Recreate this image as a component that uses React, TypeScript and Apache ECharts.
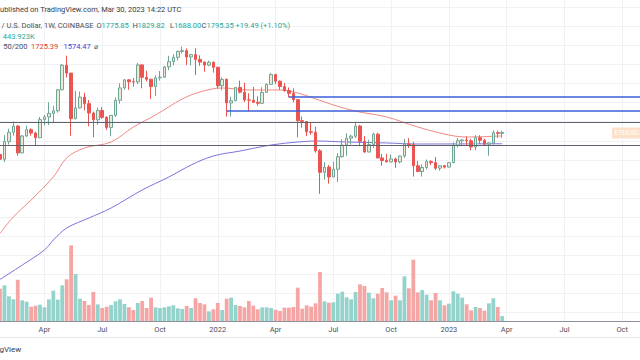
import React, { useEffect, useRef } from "react";
import * as echarts from "echarts";

// ---------- data ----------
const WEEK_START = "2021-01-25";
const WEEK_COUNT = 145; // weekly slots shown on the time axis (incl. empty future)

const TICKS: [string, string][] = [
  ["2021-04-05", "Apr"], ["2021-07-05", "Jul"], ["2021-10-04", "Oct"], ["2022-01-03", "2022"],
  ["2022-04-04", "Apr"], ["2022-07-04", "Jul"], ["2022-10-03", "Oct"], ["2023-01-02", "2023"],
  ["2023-04-03", "Apr"], ["2023-07-03", "Jul"], ["2023-10-02", "Oct"],
];

const OPEN = [
  1390, 1314, 1614, 1800, 1935, 1416, 1724, 1854, 1784, 1690, 2085, 2150, 2240, 2310, 2950, 3925, 3580, 2110, 2390, 2710,
  2510, 2250, 2080, 2320, 2140, 1900, 2190, 2610, 3015, 3310, 3240, 3230, 3940, 3410, 3330, 3060, 3390, 3414, 3850, 4090,
  4300, 4610, 4650, 4320, 4440, 4200, 4070, 3930, 4060, 3830, 3090, 3330, 2530, 2600, 3030, 2870, 2620, 2615, 2550, 2520,
  2860, 3140, 3520, 3260, 3060, 2920, 2830, 2630, 2060, 2040, 1810, 1800, 1450, 1130, 1200, 1070, 1170, 1355, 1550, 1680,
  1720, 1935, 1620, 1430, 1560, 1760, 1335, 1295, 1275, 1320, 1275, 1365, 1570, 1560, 1220, 1140, 1195, 1280, 1265, 1185,
  1220, 1200, 1265, 1550, 1630, 1645, 1630, 1515, 1690, 1640, 1565, 1590, 1790, 1775.85,
];
const HIGH = [
  1475, 1740, 1875, 2040, 1960, 1740, 1945, 1885, 1810, 2150, 2200, 2550, 2450, 2980, 3980, 4380, 3590, 2910, 2890, 2850,
  2620, 2290, 2400, 2410, 2170, 2200, 2700, 3180, 3340, 3330, 3380, 4030, 3960, 3680, 3360, 3490, 3670, 3890, 4380, 4460,
  4660, 4870, 4770, 4480, 4780, 4400, 4100, 4140, 4100, 3860, 3410, 3360, 2720, 3040, 3280, 3200, 2830, 3050, 2730, 3040,
  3180, 3580, 3555, 3290, 3190, 3030, 3000, 2650, 2160, 2050, 2020, 1920, 1480, 1270, 1230, 1280, 1410, 1660, 1780, 1750,
  2010, 1960, 1720, 1650, 1790, 1790, 1400, 1400, 1390, 1340, 1370, 1665, 1680, 1610, 1290, 1240, 1310, 1300, 1350, 1230,
  1230, 1270, 1600, 1680, 1660, 1715, 1670, 1740, 1740, 1670, 1580, 1840, 1830, 1829.82,
];
const LOW = [
  1230, 1270, 1560, 1730, 1370, 1410, 1700, 1730, 1545, 1680, 1950, 1955, 2000, 2260, 2930, 3400, 1730, 2090, 2370, 2320,
  1930, 1700, 1960, 2100, 1850, 1720, 2150, 2510, 2950, 2950, 3060, 3150, 3000, 3250, 2650, 2740, 3280, 3390, 3700, 3920,
  4150, 4500, 3930, 3910, 3500, 3900, 3640, 3880, 3600, 2990, 2930, 2160, 2160, 2580, 2830, 2560, 2300, 2580, 2450, 2500,
  2850, 3140, 3150, 2950, 2880, 2700, 2550, 1700, 1900, 1720, 1750, 1420, 880, 1040, 990, 1070, 1010, 1340, 1370, 1560,
  1680, 1530, 1420, 1430, 1500, 1330, 1220, 1270, 1265, 1190, 1255, 1335, 1500, 1075, 1135, 1075, 1170, 1230, 1160, 1150,
  1180, 1195, 1255, 1510, 1530, 1545, 1460, 1460, 1575, 1540, 1370, 1560, 1685, 1688.0,
];
const CLOSE = [
  1314, 1614, 1800, 1935, 1416, 1724, 1854, 1784, 1690, 2085, 2150, 2240, 2310, 2950, 3925, 3580, 2110, 2390, 2710, 2510,
  2250, 2080, 2320, 2140, 1900, 2190, 2610, 3015, 3310, 3240, 3230, 3940, 3410, 3330, 3060, 3390, 3414, 3850, 4090, 4300,
  4610, 4650, 4320, 4440, 4200, 4070, 3930, 4060, 3830, 3090, 3330, 2530, 2600, 3030, 2870, 2620, 2615, 2550, 2520, 2860,
  3140, 3520, 3260, 3060, 2920, 2830, 2630, 2060, 2040, 1810, 1800, 1450, 1130, 1200, 1070, 1170, 1355, 1550, 1680, 1720,
  1935, 1620, 1430, 1560, 1760, 1335, 1295, 1275, 1320, 1275, 1365, 1570, 1560, 1220, 1140, 1195, 1280, 1265, 1185, 1220,
  1200, 1265, 1550, 1630, 1645, 1630, 1515, 1690, 1640, 1565, 1590, 1790, 1775.85, 1795.35,
];
// weekly volume, thousands of ETH
const VOLUME_K = [
  2900, 3210, 2220, 1950, 3720, 1860, 1740, 1290, 1380, 1470, 1230, 1950, 2730, 1920, 3210, 3750, 6810, 4230, 2010, 1800,
  1440, 2610, 1500, 1170, 1290, 1440, 1770, 1950, 1530, 1230, 990, 1620, 1800, 1170, 2100, 1230, 1170, 1230, 1320, 1410,
  1140, 1080, 1350, 1170, 2040, 1620, 1500, 870, 1050, 1620, 990, 2010, 2100, 1440, 1350, 1230, 1800, 1380, 1050, 1230,
  1230, 1170, 1020, 900, 1200, 1200, 1260, 3000, 1110, 1410, 1290, 1590, 4410, 1770, 1650, 1680, 2460, 2640, 2130, 1950,
  2610, 3300, 3150, 2550, 2040, 2460, 2970, 2580, 1860, 2280, 1860, 4020, 2940, 5520, 2580, 2790, 2370, 1860, 2520, 1860,
  1410, 1560, 2670, 2460, 2100, 1500, 960, 1260, 1170, 930, 1590, 2040, 1260, 443.923,
];

const MA50_POINTS: [string, number][] = [
  ["2021-01-25", 555], ["2021-02-15", 672], ["2021-03-15", 819], ["2021-04-19", 1070], ["2021-05-10", 1335],
  ["2021-06-07", 1499], ["2021-07-19", 1607], ["2021-08-23", 1913], ["2021-09-27", 2200], ["2021-11-08", 2650],
  ["2021-12-06", 2875], ["2022-01-10", 3012], ["2022-02-21", 2943], ["2022-04-11", 2943], ["2022-05-09", 2842],
  ["2022-07-04", 2472], ["2022-08-08", 2300], ["2022-09-26", 2150], ["2022-11-14", 1913], ["2023-01-02", 1743],
  ["2023-01-30", 1703], ["2023-03-27", 1725.39],
];
const MA200_POINTS: [string, number][] = [
  ["2021-01-25", 325], ["2021-03-01", 384], ["2021-04-05", 458], ["2021-04-19", 514], ["2021-05-10", 591],
  ["2021-06-14", 664], ["2021-07-19", 746], ["2021-09-06", 920], ["2021-10-18", 1070], ["2021-11-22", 1230],
  ["2021-12-27", 1366], ["2022-02-07", 1447], ["2022-03-28", 1552], ["2022-05-09", 1607], ["2022-06-06", 1626],
  ["2022-07-25", 1607], ["2022-09-26", 1589], ["2022-11-14", 1570], ["2023-03-27", 1574.47],
];

const FULL_LINES = [2028, 1547]; // horizontal drawn levels
const RAYS: [string, number][] = [["2022-01-17", 2313], ["2022-04-25", 2722]];

// ---------- styling / layout ----------
const FONT = 'Roboto, "Liberation Sans", Arial, sans-serif';
const UP_FILL = "#ece8d3";
const UP_BORDER = "#6fa597";
const DOWN = "#ec5452";
const VOL_UP = "#93d3cb";
const VOL_DOWN = "#f5a6a4";
const TEAL = "#26a69a";
const GRID_C = "#eff1f5";
const STEP = 4.472; // px per week
const LEFT = -1.67;
const PANE_H = 321;
const LOG_MIN = 200.45;
const LOG_MAX = 8379;
const VOL_PER_PX = 90;

function buildWeeks(): string[] {
  const out: string[] = [];
  const t0 = Date.parse(WEEK_START + "T00:00:00Z");
  for (let i = 0; i < WEEK_COUNT; i++) out.push(new Date(t0 + i * 7 * 86400000).toISOString().slice(0, 10));
  return out;
}

export default function App() {
  const ref = useRef<HTMLDivElement>(null);
  useEffect(() => {
    if (!ref.current) return;
    const chart = echarts.init(ref.current, undefined, { renderer: "svg" });
    const weeks = buildWeeks();
    const tickMap: Record<string, string> = {};
    TICKS.forEach(([d, l]) => (tickMap[d] = l));
    const isTick = (_i: number, v: string) => tickMap[v] !== undefined;
    const lastWeek = weeks[weeks.length - 1];
    const width = (WEEK_COUNT - 1) * STEP;

    const candles = OPEN.map((o, i) => [o, CLOSE[i], LOW[i], HIGH[i]]);
    const vols = VOLUME_K.map((v, i) => ({
      value: v,
      itemStyle: { color: CLOSE[i] >= OPEN[i] ? VOL_UP : VOL_DOWN },
    }));

    const hl = { color: "#5f626c", width: 1, type: "solid" };
    const bl = { color: "#3b5fd7", width: 1.6, type: "solid" };

    const txt = (x: number, y: number, text: string, fill: string, extra: any = {}) => ({
      type: "text",
      x,
      y,
      silent: true,
      z: 10,
      style: { text, fill, fontSize: 7.5, fontFamily: FONT, verticalAlign: "middle", align: "left", ...extra },
    });
    const G = "#4a4e59";

    chart.setOption({
      animation: false,
      backgroundColor: "#ffffff",
      grid: [
        { left: LEFT, width, top: 0, height: PANE_H },
        { left: LEFT, width, top: 0, height: PANE_H },
        { left: 0, right: 0, top: 7.1, height: 305.6 },
      ],
      xAxis: [
        {
          type: "category",
          gridIndex: 0,
          data: weeks,
          boundaryGap: false,
          axisLine: { show: true, lineStyle: { color: "#8f929b", width: 1 } },
          axisTick: { show: false },
          axisLabel: {
            interval: isTick,
            formatter: (v: string) => tickMap[v] || "",
            fontSize: 7.5,
            fontFamily: FONT,
            color: "#4c505b",
            margin: 4,
          },
          splitLine: { show: true, interval: isTick, lineStyle: { color: GRID_C, width: 1 } },
        },
        { type: "category", gridIndex: 1, data: weeks, boundaryGap: false, show: false },
        { type: "value", gridIndex: 2, min: 0, max: 1, show: false },
      ],
      yAxis: [
        { type: "log", gridIndex: 0, logBase: 10, min: LOG_MIN, max: LOG_MAX, show: false },
        { type: "value", gridIndex: 1, min: 0, max: PANE_H * VOL_PER_PX, show: false },
        {
          type: "value",
          gridIndex: 2,
          min: 0,
          max: 16,
          interval: 1,
          axisLine: { show: false },
          axisTick: { show: false },
          axisLabel: { show: false },
          splitLine: { show: true, lineStyle: { color: GRID_C, width: 1 } },
        },
      ],
      series: [
        {
          type: "bar",
          name: "Volume",
          xAxisIndex: 1,
          yAxisIndex: 1,
          data: vols,
          barWidth: 3.8,
          z: 1,
        },
        {
          type: "line",
          name: "MA50",
          xAxisIndex: 0,
          yAxisIndex: 0,
          data: MA50_POINTS,
          smooth: 0.35,
          showSymbol: false,
          lineStyle: { color: "#f08a84", width: 1 },
          z: 2,
        },
        {
          type: "line",
          name: "MA200",
          xAxisIndex: 0,
          yAxisIndex: 0,
          data: MA200_POINTS,
          smooth: 0.35,
          showSymbol: false,
          lineStyle: { color: "#7b74da", width: 1 },
          z: 2,
        },
        {
          type: "candlestick",
          name: "ETHUSD",
          xAxisIndex: 0,
          yAxisIndex: 0,
          data: candles,
          barWidth: 3,
          itemStyle: { color: UP_FILL, color0: DOWN, borderColor: UP_BORDER, borderColor0: DOWN, borderWidth: 1 },
          z: 3,
          markLine: {
            silent: true,
            symbol: ["none", "none"],
            label: { show: false },
            data: [
              ...FULL_LINES.map((v) => ({ yAxis: v, lineStyle: hl })),
              ...RAYS.map(([d, v]) => [
                { coord: [d, v], lineStyle: bl },
                { coord: [lastWeek, v] },
              ]),
            ],
          },
        },
      ],
      graphic: [
        txt(0, 9.5, "ublished on TradingView.com, Mar 30, 2023 14:22 UTC", "#363a45"),
        txt(1.5, 25.5, "/ U.S. Dollar, 1W, COINBASE", G),
        txt(96.5, 25.5, "O", G),
        txt(101.5, 25.5, "1775.85", TEAL),
        txt(132.5, 25.5, "H", G),
        txt(137.5, 25.5, "1829.82", TEAL),
        txt(170, 25.5, "L", G),
        txt(174, 25.5, "1688.00", TEAL),
        txt(201.5, 25.5, "C", G),
        txt(206.5, 25.5, "1795.35", TEAL),
        txt(235.5, 25.5, "+19.49 (+1.10%)", TEAL),
        txt(2.7, 36, "443.923K", TEAL),
        txt(3.3, 46.5, "50/200", G),
        txt(31, 46.5, "1725.39", "#e53935"),
        txt(63.5, 46.5, "1574.47", "#3b3fd8"),
        txt(93.5, 46.5, "⌀", G, { fontSize: 7 }),
        { type: "rect", shape: { x: 612, y: 127.5, width: 40, height: 11, r: 1 }, style: { fill: "#fbe1c9" }, silent: true, z: 10 },
        txt(614.5, 133.2, "ETHUSD", "#ffffff", { fontSize: 6.5 }),
        { type: "line", shape: { x1: 0, y1: 337.5, x2: 640, y2: 337.5 }, style: { stroke: "#e3e6ec", lineWidth: 1 }, silent: true },
        txt(-0.5, 349, "gView", "#3a3e4a", { fontSize: 8 }),
      ],
    });
    return () => chart.dispose();
  }, []);
  return (
    <div
      ref={ref}
      style={{ position: "fixed", left: 0, top: 0, width: 640, height: 360, background: "#fff" }}
    />
  );
}
